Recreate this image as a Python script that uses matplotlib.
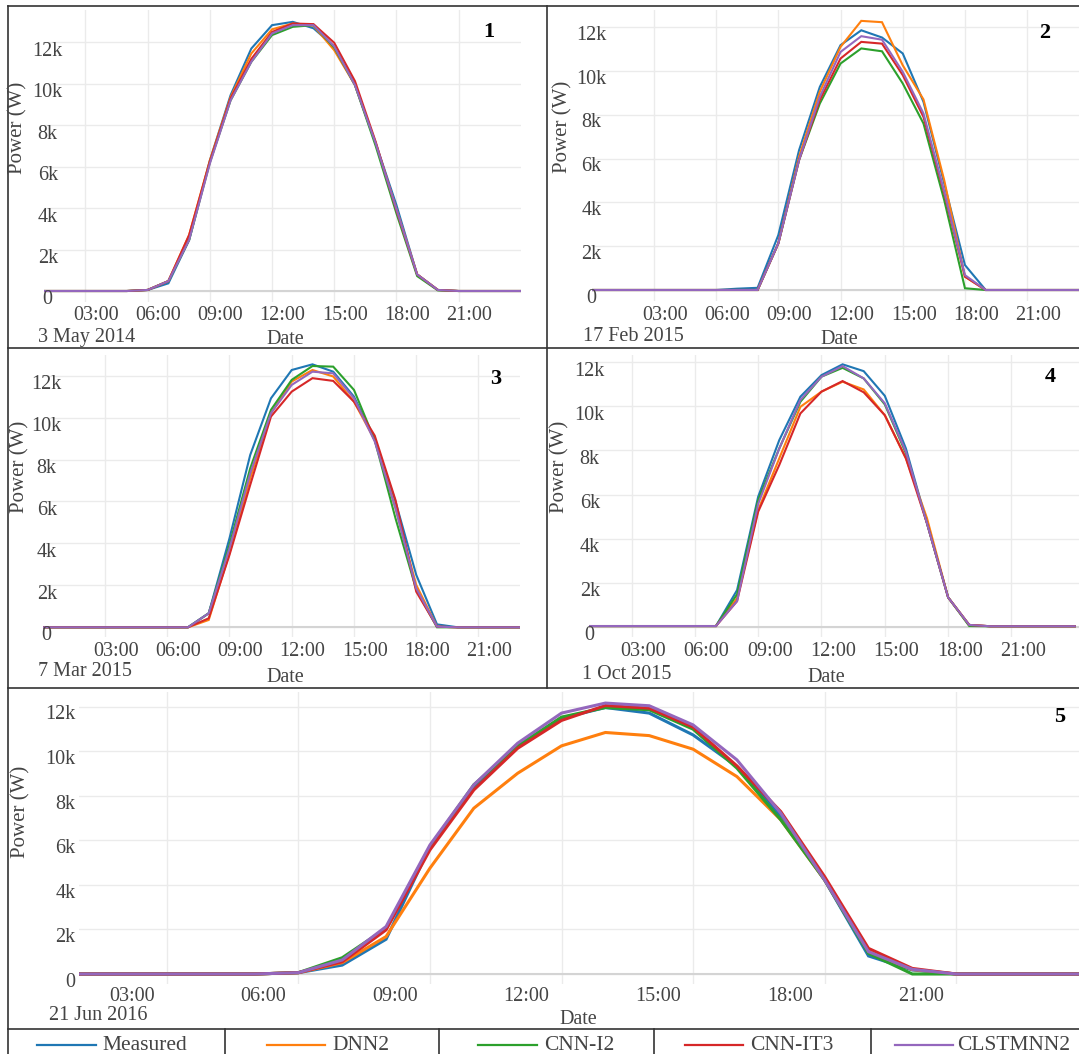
import matplotlib
matplotlib.use("Agg")
import matplotlib.pyplot as plt
import matplotlib.transforms as mtransforms
from matplotlib.lines import Line2D

plt.rcParams['font.family'] = ['Liberation Serif', 'DejaVu Serif']

W, H = 1079, 1054
hours = list(range(25))
models = ["Measured", "DNN2", "CNN-I2", "CNN-IT3", "CLSTMNN2"]
colors = ["#1f77b4", "#ff7f0e", "#2ca02c", "#d62728", "#9467bd"]
y_ticks = [0, 2000, 4000, 6000, 8000, 10000, 12000]
y_tick_labels = ["0", "2k", "4k", "6k", "8k", "10k", "12k"]
x_ticks = [3, 6, 9, 12, 15, 18, 21]
x_tick_labels = ["03:00", "06:00", "09:00", "12:00", "15:00", "18:00", "21:00"]
dates = ["3 May 2014", "17 Feb 2015", "7 Mar 2015", "1 Oct 2015", "21 Jun 2016"]

# day 1: 3 May 2014
d1_measured = [0, 0, 0, 0, 0, 0, 50, 370, 2460, 6300, 9450, 11700, 12830, 12990, 12680, 11800, 9940, 7130, 4150, 800, 50, 0, 0, 0, 0]
d1_dnn2 = [0, 0, 0, 0, 0, 0, 50, 480, 2700, 6300, 9350, 11460, 12630, 12910, 12800, 11620, 9940, 7130, 3950, 800, 50, 0, 0, 0, 0]
d1_cnn_i2 = [0, 0, 0, 0, 0, 0, 50, 480, 2460, 6200, 9200, 11060, 12350, 12750, 12830, 11750, 9940, 7000, 3750, 720, 30, 0, 0, 0, 0]
d1_cnn_it3 = [0, 0, 0, 0, 0, 0, 50, 480, 2700, 6250, 9300, 11200, 12500, 12910, 12880, 11980, 10130, 7200, 3900, 800, 50, 0, 0, 0, 0]
d1_clstmnn2 = [0, 0, 0, 0, 0, 0, 50, 480, 2460, 6150, 9200, 11060, 12430, 12830, 12830, 11800, 9940, 7130, 3950, 800, 50, 0, 0, 0, 0]

# day 2: 17 Feb 2015
d2_measured = [0, 0, 0, 0, 0, 0, 0, 60, 100, 2510, 6390, 9280, 11190, 11870, 11540, 10810, 8600, 4870, 1140, 0, 0, 0, 0, 0, 0]
d2_dnn2 = [0, 0, 0, 0, 0, 0, 0, 0, 0, 2130, 6090, 9060, 11110, 12300, 12240, 10270, 8710, 5020, 610, 0, 0, 0, 0, 0, 0]
d2_cnn_i2 = [0, 0, 0, 0, 0, 0, 0, 0, 0, 2130, 5940, 8520, 10350, 11040, 10910, 9440, 7610, 4110, 80, 0, 0, 0, 0, 0, 0]
d2_cnn_it3 = [0, 0, 0, 0, 0, 0, 0, 0, 0, 2130, 5940, 8680, 10580, 11340, 11260, 9820, 7910, 4410, 610, 0, 0, 0, 0, 0, 0]
d2_clstmnn2 = [0, 0, 0, 0, 0, 0, 0, 0, 0, 2130, 5940, 8830, 10880, 11600, 11440, 9970, 8070, 4500, 680, 0, 0, 0, 0, 0, 0]

# day 3: 7 Mar 2015
d3_measured = [0, 0, 0, 0, 0, 0, 0, 0, 670, 4240, 8220, 10920, 12270, 12540, 12190, 11000, 8930, 6000, 2500, 140, 0, 0, 0, 0, 0]
d3_dnn2 = [0, 0, 0, 0, 0, 0, 0, 0, 350, 3530, 7110, 10210, 11720, 12270, 11960, 10760, 8930, 5680, 2020, 30, 0, 0, 0, 0, 0]
d3_cnn_i2 = [0, 0, 0, 0, 0, 0, 0, 0, 670, 3930, 7580, 10370, 11800, 12460, 12430, 11320, 8930, 5200, 1800, 0, 0, 0, 0, 0, 0]
d3_cnn_it3 = [0, 0, 0, 0, 0, 0, 0, 0, 430, 3450, 6790, 10050, 11240, 11880, 11750, 10760, 9140, 6070, 1700, 30, 0, 0, 0, 0, 0]
d3_clstmnn2 = [0, 0, 0, 0, 0, 0, 0, 0, 670, 3770, 7340, 10210, 11560, 12190, 12110, 10920, 8860, 5680, 1860, 30, 0, 0, 0, 0, 0]

# day 4: 1 Oct 2015
d4_measured = [30, 30, 30, 30, 30, 30, 30, 30, 1660, 5900, 8470, 10440, 11420, 11910, 11600, 10480, 8090, 4690, 1330, 80, 20, 20, 20, 20, 20]
d4_dnn2 = [30, 30, 30, 30, 30, 30, 30, 30, 1290, 5300, 7640, 9980, 10670, 11120, 10770, 9600, 7640, 4920, 1330, 80, 20, 20, 20, 20, 20]
d4_cnn_i2 = [30, 30, 30, 30, 30, 30, 30, 30, 1470, 5750, 8090, 10210, 11350, 11750, 11270, 10090, 7870, 4690, 1330, 30, 20, 20, 20, 20, 20]
d4_cnn_it3 = [30, 30, 30, 30, 30, 30, 30, 30, 1160, 5220, 7340, 9680, 10670, 11150, 10640, 9600, 7640, 4690, 1330, 80, 20, 20, 20, 20, 20]
d4_clstmnn2 = [30, 30, 30, 30, 30, 30, 30, 30, 1160, 5570, 8090, 10290, 11350, 11830, 11270, 10140, 7940, 4690, 1330, 80, 20, 20, 20, 20, 20]

# day 5: 21 Jun 2016
d5_measured = [0, 0, 0, 0, 0, 0, 60, 400, 1560, 5720, 8410, 10210, 11480, 11960, 11710, 10730, 9310, 7070, 4220, 810, 180, 0, 0, 0, 0]
d5_dnn2 = [0, 0, 0, 0, 0, 0, 60, 510, 1680, 4750, 7440, 9010, 10240, 10840, 10700, 10090, 8860, 6920, 4220, 1000, 200, 0, 0, 0, 0]
d5_cnn_i2 = [0, 0, 0, 0, 0, 0, 60, 730, 2050, 5720, 8490, 10240, 11530, 11960, 11860, 10990, 9240, 6920, 4220, 930, 0, 0, 0, 0, 0]
d5_cnn_it3 = [0, 0, 0, 0, 0, 0, 60, 550, 1980, 5570, 8260, 10130, 11380, 12050, 11930, 11080, 9340, 7290, 4370, 1150, 250, 0, 0, 0, 0]
d5_clstmnn2 = [0, 0, 0, 0, 0, 0, 60, 630, 2130, 5790, 8490, 10360, 11710, 12160, 12040, 11180, 9610, 7220, 4220, 1000, 210, 0, 0, 0, 0]

days = [
    [d1_measured, d1_dnn2, d1_cnn_i2, d1_cnn_it3, d1_clstmnn2],
    [d2_measured, d2_dnn2, d2_cnn_i2, d2_cnn_it3, d2_clstmnn2],
    [d3_measured, d3_dnn2, d3_cnn_i2, d3_cnn_it3, d3_clstmnn2],
    [d4_measured, d4_dnn2, d4_cnn_i2, d4_cnn_it3, d4_clstmnn2],
    [d5_measured, d5_dnn2, d5_cnn_i2, d5_cnn_it3, d5_clstmnn2],
]

# pixel layout of each panel
panels = [
    dict(left=44, right=520.8, top=10, bottom=302, y0=291, pxk=20.72, xlim=(1, 24),
         ytx=47.7, ytha='center', ytdy=9, xtdx=10.5, xty=315, date=(38, 337), dlab=(285, 339),
         ylab=(18, 128), num=(489, 32), lw=1.5),
    dict(left=591.7, right=1079, top=10, bottom=301, y0=290, pxk=21.88, xlim=(0, 23.5),
         ytx=591.5, ytha='center', ytdy=8, xtdx=11, xty=315, date=(583, 336), dlab=(839, 340),
         ylab=(563.3, 126.7), num=(1045, 33), lw=1.5),
    dict(left=42.7, right=520, top=355, bottom=637, y0=627.3, pxk=20.97, xlim=(0, 23),
         ytx=46.7, ytha='center', ytdy=8.7, xtdx=10.7, xty=651.7, date=(38, 671.7), dlab=(285, 678),
         ylab=(20, 466.7), num=(495.7, 379.3), lw=1.5),
    dict(left=589.3, right=1079, top=355, bottom=637, y0=626.7, pxk=22.03, xlim=(1, 24.2),
         ytx=589.7, ytha='center', ytdy=8.7, xtdx=11.7, xty=651, date=(581.7, 674.3), dlab=(826.7, 677.7),
         ylab=(560, 466.7), num=(1050, 377.3), lw=1.5),
    dict(left=79.1, right=1079, top=692, bottom=984, y0=974, pxk=22.28, xlim=(1, 23.8),
         ytx=75.5, ytha='right', ytdy=8.3, xtdx=-35, xty=996.7, date=(49, 1016), dlab=(578, 1019),
         ylab=(20.6, 811.7), num=(1060, 716.7), lw=2.2),
]

fig = plt.figure(figsize=(W / 100, H / 100), dpi=100)
tick_color = "#444444"
fs = 14.5

for p, series, date in zip(panels, days, dates):
    ax = fig.add_axes([p['left'] / W, 1 - p['bottom'] / H,
                       (p['right'] - p['left']) / W, (p['bottom'] - p['top']) / H])
    lo = -(p['bottom'] - p['y0']) / p['pxk'] * 1000
    hi = (p['y0'] - p['top']) / p['pxk'] * 1000
    for vals, c in zip(series, colors):
        ax.plot(hours, vals, color=c, lw=p['lw'], solid_joinstyle='miter', zorder=3)
    ax.set_xlim(*p['xlim'])
    ax.set_ylim(lo, hi)
    ax.set_xticks(x_ticks)
    ax.set_yticks(y_ticks)
    ax.set_xticklabels([])
    ax.set_yticklabels([])
    ax.tick_params(length=0)
    ax.grid(True, color="#ebebeb", lw=1)
    ax.axhline(0, color="#d4d4d4", lw=1.5, zorder=2)
    for s in ax.spines.values():
        s.set_visible(False)
    ax.set_facecolor("none")

    # tick labels, shifted like in the source figure
    ytrans = mtransforms.blended_transform_factory(fig.transFigure, ax.transData) + \
        mtransforms.ScaledTranslation(0, -p['ytdy'] / 100, fig.dpi_scale_trans)
    for v, lab in zip(y_ticks, y_tick_labels):
        ax.text(p['ytx'] / W, v, lab, transform=ytrans, ha=p['ytha'], va='center',
                fontsize=fs, color=tick_color, clip_on=False)
    xtrans = mtransforms.blended_transform_factory(ax.transData, fig.transFigure) + \
        mtransforms.ScaledTranslation(p['xtdx'] / 100, 0, fig.dpi_scale_trans)
    for h, lab in zip(x_ticks, x_tick_labels):
        ax.text(h, 1 - p['xty'] / H, lab, transform=xtrans, ha='center', va='center',
                fontsize=fs, color=tick_color, clip_on=False)

    fig.text(p['date'][0] / W, 1 - p['date'][1] / H, date, ha='left', va='center',
             fontsize=fs, color=tick_color)
    fig.text(p['dlab'][0] / W, 1 - p['dlab'][1] / H, "Date", ha='center', va='center',
             fontsize=fs, color=tick_color)
    fig.text(p['ylab'][0] / W, 1 - p['ylab'][1] / H, "Power (W)", ha='center', va='center',
             rotation=90, fontsize=15, color=tick_color)

for i, p in enumerate(panels):
    fig.text(p['num'][0] / W, 1 - p['num'][1] / H, str(i + 1), ha='center', va='center',
             fontsize=16, fontweight='bold', color='black')

# panel frames
frame = "#333333"
segments = [
    ((8, 6), (1079, 6)), ((8, 6), (8, 1054)), ((547, 6), (547, 688)),
    ((8, 348), (1079, 348)), ((8, 688), (1079, 688)), ((8, 1029), (1079, 1029)),
    ((225, 1029), (225, 1054)), ((438.5, 1029), (438.5, 1054)),
    ((654, 1029), (654, 1054)), ((870.7, 1029), (870.7, 1054)),
]
for (x1, y1), (x2, y2) in segments:
    fig.add_artist(Line2D([x1 / W, x2 / W], [1 - y1 / H, 1 - y2 / H], color=frame, lw=1.2,
                          transform=fig.transFigure))

# legend row
leg_line_x = [(37, 96), (267, 325), (478, 537), (685, 743), (895, 953)]
leg_text_x = [102, 332, 544, 750, 957]
for (x1, x2), tx, name, c in zip(leg_line_x, leg_text_x, models, colors):
    fig.add_artist(Line2D([x1 / W, x2 / W], [1 - 1044.5 / H] * 2, color=c, lw=1.6,
                          transform=fig.transFigure))
    fig.text(tx / W, 1 - 1045 / H, name, ha='left', va='center', fontsize=15.5, color=tick_color)

plt.savefig("out.png", dpi=100)
